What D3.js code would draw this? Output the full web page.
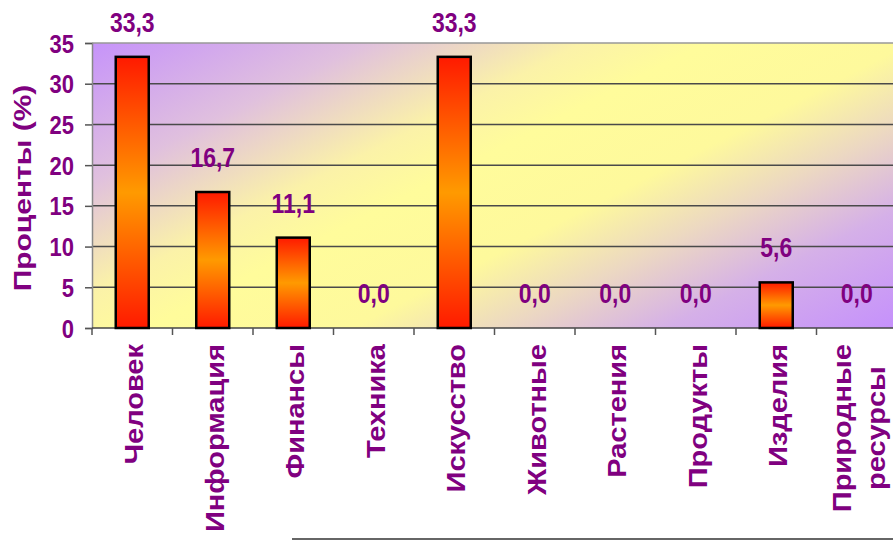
<!DOCTYPE html>
<html>
<head>
<meta charset="utf-8">
<script src="https://cdn.jsdelivr.net/npm/d3@7"></script>
<style>
  body { margin: 0; background: #fff; overflow: hidden; }
  text { font-family: "Liberation Sans", Arial, sans-serif; font-weight: bold; fill: #800080; }
</style>
</head>
<body>
<div id="chart"></div>
<script>
// chart data
var categories = ["Человек", "Информация", "Финансы", "Техника", "Искусство",
  "Животные", "Растения", "Продукты", "Изделия", "Природные ресурсы"];
var percents = [33.3, 16.7, 11.1, 0.0, 33.3, 0.0, 0.0, 0.0, 5.6, 0.0];
var yTicks = [0, 5, 10, 15, 20, 25, 30, 35];
var yTitle = "Проценты (%)";

var svgWidth = 893;
var svgHeight = 541;

// plot area runs past the right edge like in the picture
var margin = { top: 43, right: -4, bottom: 213, left: 92 };
var width = svgWidth - margin.left - margin.right;
var height = svgHeight - margin.top - margin.bottom;

var svg = d3.select("#chart")
  .append("svg")
  .attr("width", svgWidth)
  .attr("height", svgHeight);

var defs = svg.append("defs");

// diagonal purple / yellow / purple background
var bg = defs.append("linearGradient")
  .attr("id", "bgGrad")
  .attr("gradientUnits", "userSpaceOnUse")
  .attr("x1", 0).attr("y1", 0)
  .attr("x2", 281).attr("y2", 552);
[[0, "#c693fa"], [0.2, "#e0c0de"], [0.36, "#fbf2a8"], [0.45, "#fffc9b"],
 [0.6, "#fef99c"], [0.71, "#ecd8c2"], [0.83, "#d5b0e8"], [1, "#c590fc"]]
  .forEach(function(s) {
    bg.append("stop").attr("offset", s[0]).attr("stop-color", s[1]);
  });

// red / orange / red bar fill
var barGrad = defs.append("linearGradient")
  .attr("id", "barGrad")
  .attr("x1", 0).attr("y1", 0).attr("x2", 0).attr("y2", 1);
[[0, "#ff1a00"], [0.5, "#ff9a00"], [1, "#ff1a00"]].forEach(function(s) {
  barGrad.append("stop").attr("offset", s[0]).attr("stop-color", s[1]);
});

var chartGroup = svg.append("g")
  .attr("transform", `translate(${margin.left}, ${margin.top})`);

var xScale = d3.scaleBand()
  .domain(categories)
  .range([0, width])
  .paddingInner(0.59)
  .paddingOuter(0.295);

var yScale = d3.scaleLinear()
  .domain([0, 35])
  .range([height, 0]);

chartGroup.append("rect")
  .attr("width", width)
  .attr("height", height)
  .attr("fill", "url(#bgGrad)");

// gridlines
chartGroup.selectAll(".grid")
  .data(yTicks.slice(1))
  .enter()
  .append("line")
  .attr("x1", 0)
  .attr("x2", width)
  .attr("y1", d => yScale(d))
  .attr("y2", d => yScale(d))
  .attr("stroke", d => d === 35 ? "#999" : "#4a4a4a")
  .attr("stroke-width", 1.5);

// y axis
var leftAxis = d3.axisLeft(yScale)
  .tickValues(yTicks)
  .tickSize(7)
  .tickPadding(11);

var yAxis = chartGroup.append("g").call(leftAxis);
yAxis.select(".domain").attr("stroke", "#888").attr("stroke-width", 1.5);
yAxis.selectAll(".tick line").attr("stroke", "#555").attr("stroke-width", 1.5);
yAxis.selectAll(".tick text")
  .attr("font-size", 22)
  .attr("font-family", null)
  .attr("fill", "#800080")
  .attr("dy", null)
  .attr("transform", "translate(0, 9) scale(1, 1.2)");

// x axis: ticks on band boundaries
var step = xScale.step();
var bounds = categories.map(c => xScale(c) - step * xScale.paddingOuter());
bounds.push(width + 1);

chartGroup.append("line")
  .attr("x1", 0).attr("x2", width)
  .attr("y1", height).attr("y2", height)
  .attr("stroke", "#444").attr("stroke-width", 1.5);

chartGroup.selectAll(".xtick")
  .data(bounds)
  .enter()
  .append("line")
  .attr("x1", d => d).attr("x2", d => d)
  .attr("y1", height).attr("y2", height + 7)
  .attr("stroke", "#555").attr("stroke-width", 1.5);

// bars
chartGroup.selectAll(".bar")
  .data(percents)
  .enter()
  .append("rect")
  .attr("x", (d, i) => xScale(categories[i]))
  .attr("y", d => yScale(d))
  .attr("width", xScale.bandwidth())
  .attr("height", d => height - yScale(d))
  .attr("fill", "url(#barGrad)")
  .attr("stroke", d => d > 0 ? "#000" : "none")
  .attr("stroke-width", 2.5);

// value labels
chartGroup.selectAll(".val")
  .data(percents)
  .enter()
  .append("text")
  .attr("text-anchor", "middle")
  .attr("font-size", 23)
  .attr("transform", (d, i) =>
    `translate(${xScale(categories[i]) + xScale.bandwidth() / 2}, ${yScale(d) - 25}) scale(1, 1.18)`)
  .text(d => d.toFixed(1).replace(".", ","));

// category labels, rotated
var catLabels = chartGroup.selectAll(".cat")
  .data(categories)
  .enter()
  .append("g")
  .attr("transform", d =>
    `translate(${xScale(d) + xScale.bandwidth() / 2 + 2}, ${height + 16}) rotate(-90) scale(1.16, 1)`);

catLabels.each(function(d) {
  var lines = d.split(" ");
  var g = d3.select(this);
  var t = g.append("text")
    .attr("font-size", 25)
    .attr("text-anchor", "end");
  lines.forEach(function(line, j) {
    t.append("tspan")
      .attr("x", 0)
      .attr("y", (j - (lines.length - 1) / 2) * 34 + 9)
      .text(line);
  });
  if (lines.length > 1) {
    // shorter lines centred against the longest one
    var spans = t.selectAll("tspan").nodes();
    var widths = spans.map(s => s.getComputedTextLength());
    var maxW = d3.max(widths);
    spans.forEach(function(s, j) {
      d3.select(s).attr("x", -(maxW - widths[j]) / 2);
    });
  }
});

// y axis title
svg.append("text")
  .attr("text-anchor", "middle")
  .attr("font-size", 24)
  .attr("transform", "translate(31, 188) rotate(-90) scale(1.25, 1)")
  .text(yTitle);

// line along the lower edge
svg.append("line")
  .attr("x1", 292).attr("x2", svgWidth)
  .attr("y1", 539).attr("y2", 539)
  .attr("stroke", "#666").attr("stroke-width", 2);
</script>
</body>
</html>
